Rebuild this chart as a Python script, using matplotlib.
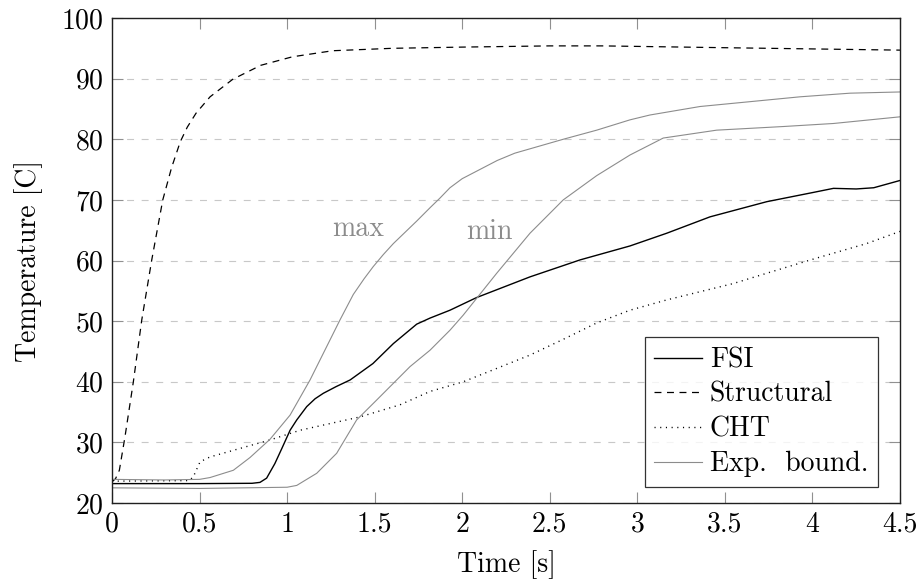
import matplotlib
matplotlib.use("Agg")
import matplotlib.pyplot as plt

# fonts: Computer Modern look (cmr10 ships with matplotlib)
plt.rcParams["font.family"] = ["cmr10", "DejaVu Serif"]
plt.rcParams["axes.formatter.use_mathtext"] = True
plt.rcParams["lines.scale_dashes"] = False

# data
struct_t = [0, 0.02, 0.042, 0.074, 0.122, 0.17, 0.227, 0.29, 0.34, 0.39, 0.43, 0.48, 0.56,
            0.69, 0.85, 1.03, 1.26, 1.6, 2.0, 2.5, 2.8, 3.5, 4.0, 4.5]
struct_T = [23.5, 24.0, 25.4, 30.9, 40.0, 50.2, 60.1, 70.0, 75.3, 79.6, 82.0, 84.3, 87.0,
            89.9, 92.2, 93.6, 94.6, 95.0, 95.2, 95.4, 95.4, 95.1, 94.9, 94.7]

fsi_t = [0, 0.5, 0.8, 0.845, 0.883, 0.93, 0.97, 1.017, 1.055, 1.112, 1.16, 1.207, 1.28,
         1.36, 1.49, 1.607, 1.74, 1.816, 1.93, 2.083, 2.387, 2.673, 2.958, 3.168, 3.415,
         3.739, 4.0, 4.12, 4.25, 4.35, 4.5]
fsi_T = [23.2, 23.2, 23.25, 23.4, 24.1, 26.5, 29.0, 32.0, 33.7, 35.9, 37.2, 38.1, 39.2,
         40.3, 43.0, 46.3, 49.5, 50.5, 51.8, 53.9, 57.3, 60.1, 62.4, 64.5, 67.2,
         69.7, 71.2, 71.9, 71.8, 72.0, 73.2]

cht_t = [0, 0.44, 0.464, 0.503, 0.56, 0.731, 0.902, 1.074, 1.416, 1.645, 1.816, 2.006,
         2.197, 2.387, 2.577, 2.768, 2.958, 3.168, 3.548, 3.739, 4.024, 4.31, 4.5]
cht_T = [23.6, 23.7, 24.3, 26.8, 27.6, 29.0, 30.4, 32.0, 34.2, 36.2, 38.4, 40.0,
         42.2, 44.4, 47.0, 49.7, 51.8, 53.5, 56.2, 57.9, 60.4, 62.8, 64.8]

exp_max_t = [0, 0.3, 0.5, 0.56, 0.693, 0.788, 0.902, 1.017, 1.131, 1.226, 1.302, 1.378,
             1.44, 1.492, 1.55, 1.607, 1.74, 1.816, 1.873, 1.93, 2.0, 2.1, 2.2, 2.3,
             2.577, 2.768, 2.958, 3.072, 3.358, 3.644, 3.929, 4.215, 4.5]
exp_max_T = [23.9, 23.8, 23.9, 24.2, 25.4, 27.5, 30.5, 34.5, 40.3, 45.8, 50.2, 54.4,
             57.0, 59.0, 61.0, 62.8, 66.5, 68.7, 70.3, 72.0, 73.5, 75.0, 76.5, 77.7,
             80.0, 81.5, 83.2, 84.0, 85.4, 86.2, 87.0, 87.6, 87.8]

exp_min_t = [0, 0.5, 1.0, 1.055, 1.169, 1.283, 1.397, 1.512, 1.626, 1.702, 1.816, 1.93,
             2.006, 2.197, 2.387, 2.577, 2.768, 2.958, 3.148, 3.453, 3.834, 4.12, 4.5]
exp_min_T = [22.5, 22.4, 22.6, 22.9, 24.9, 28.2, 33.7, 37.0, 40.3, 42.5, 45.2, 48.5,
             51.0, 57.9, 64.5, 70.0, 74.0, 77.4, 80.2, 81.5, 82.1, 82.6, 83.7]

x_ticks = [0, 0.5, 1, 1.5, 2, 2.5, 3, 3.5, 4, 4.5]
x_tick_labels = ["0", "0.5", "1", "1.5", "2", "2.5", "3", "3.5", "4", "4.5"]
y_ticks = [20, 30, 40, 50, 60, 70, 80, 90, 100]

gray = "#8c8c8c"
fs = 20

fig = plt.figure(figsize=(9.2, 5.83), dpi=100)
ax = fig.add_axes([112 / 920, 80 / 583, 788 / 920, 485 / 583])

# horizontal dashed grid
ax.yaxis.grid(True, color="#c8c8c8", linewidth=0.8, linestyle=(0, (5, 5.5)))
ax.set_axisbelow(True)

ax.plot(fsi_t, fsi_T, color="black", linewidth=1.0, label="FSI")
ax.plot(struct_t, struct_T, color="black", linewidth=0.9, linestyle=(0, (5, 4)), label="Structural")
ax.plot(cht_t, cht_T, color="black", linewidth=1.0, linestyle=(0, (0.8, 3.3)), label="CHT")
ax.plot(exp_max_t, exp_max_T, color=gray, linewidth=0.8, label="Exp.  bound.")
ax.plot(exp_min_t, exp_min_T, color=gray, linewidth=0.8)

ax.text(1.405, 65.2, "max", color=gray, fontsize=fs, ha="center", va="center")
ax.text(2.153, 64.7, "min", color=gray, fontsize=fs, ha="center", va="center")

ax.set_xlim(0, 4.5)
ax.set_ylim(20, 100)
ax.set_xticks(x_ticks)
ax.set_xticklabels(x_tick_labels)
ax.set_yticks(y_ticks)
ax.tick_params(direction="in", length=8, width=0.8, color="#909090",
               top=True, right=True, labelsize=fs, pad=6)
for s in ax.spines.values():
    s.set_linewidth(1.0)
    s.set_color("#202020")

ax.set_xlabel("Time [s]", fontsize=fs, labelpad=9)
ax.set_ylabel("Temperature [C]", fontsize=fs, labelpad=13)

leg = ax.legend(loc="lower right", bbox_to_anchor=(0.972, 0.033), borderaxespad=0,
                fontsize=fs, frameon=True, fancybox=False, edgecolor="black",
                handlelength=1.7, handletextpad=0.3, labelspacing=0.3, borderpad=0.35)
leg.get_frame().set_linewidth(0.9)

fig.savefig("out.png", dpi=100)
